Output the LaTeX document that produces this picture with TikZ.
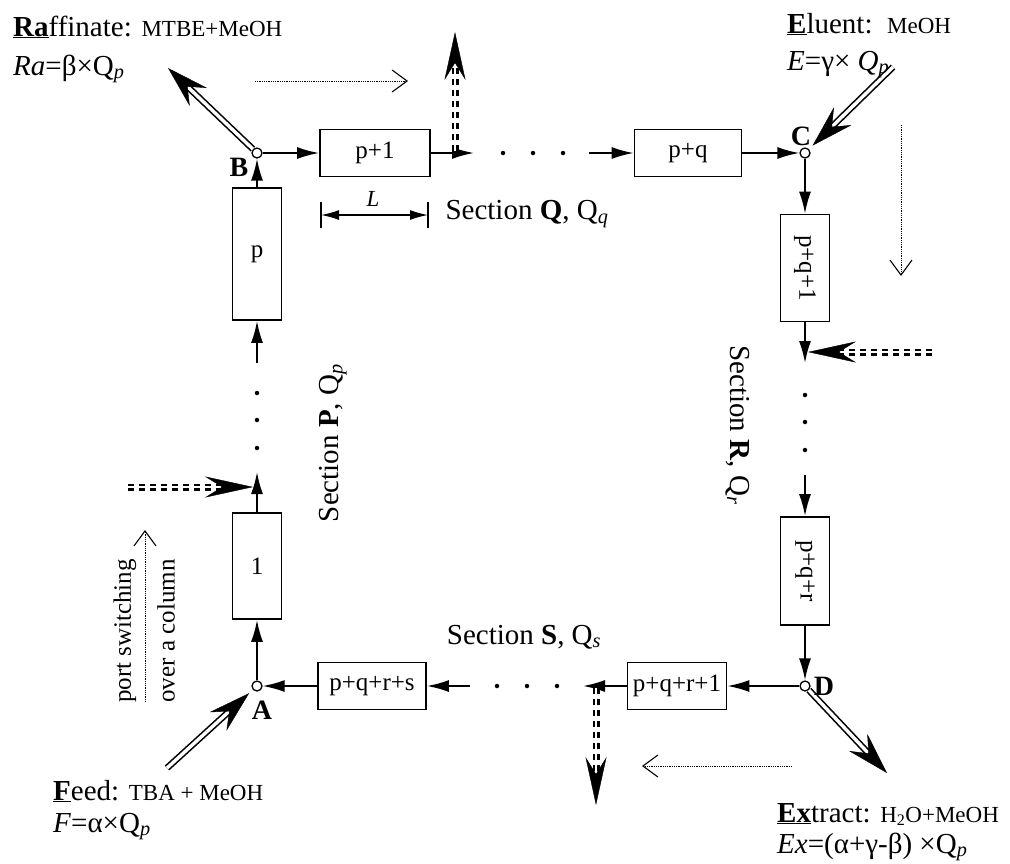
\documentclass[tikz,border=0pt]{standalone}
\usepackage{fontspec}
\setmainfont{Liberation Serif}
\usepackage{graphicx}
\usetikzlibrary{arrows.meta,calc}
\tikzset{
  col/.style={draw, line width=1.8pt, inner sep=0pt, font=\fontsize{25}{30}\selectfont},
  hcol/.style={col, minimum height=47pt},
  vcol/.style={col, minimum width=49pt},
  port/.style={circle, draw, line width=1.3pt, fill=white, minimum size=10pt, inner sep=0pt},
  flow/.style={line width=1.8pt, -{Latex[length=22pt,width=12pt]}},
  dbl/.style={double, double distance=3.4pt, line width=1.6pt},
  dtip/.style={line width=0.4pt, -{Stealth[length=42pt,width=25pt,inset=15pt]}},
  ddbl/.style={double, double distance=2.2pt, line width=2.4pt, dash pattern=on 6pt off 5pt},
  ddtip/.style={line width=0.4pt, -{Stealth[length=48pt,width=21pt,inset=17pt]}},
  hint/.style={line width=1pt, dash pattern=on 1pt off 0.8pt, -{Straight Barb[length=15pt,width=22pt,line width=1.1pt]}},
  dotm/.style={circle, fill, inner sep=0pt, minimum size=4.5pt},
  lab/.style={font=\fontsize{29}{34}\selectfont, inner sep=0pt, anchor=base west},
  sec/.style={font=\fontsize{29}{35}\selectfont, inner sep=0pt},
  tag/.style={font=\fontsize{28}{32}\selectfont\bfseries, inner sep=0pt},
}
\newcommand{\sm}[1]{{\fontsize{23}{28}\selectfont #1}}
\begin{document}
\begin{tikzpicture}[x=1pt,y=-1pt]
\useasboundingbox (0,0) rectangle (1010,863);

% ports
\node[port] (B) at (257,153) {};
\node[port] (C) at (805,153) {};
\node[port] (A) at (257,686) {};
\node[port] (D) at (805,686) {};

% columns
\node[hcol, minimum width=110pt] (c1) at (375,153) {p+1};
\node[hcol, minimum width=107pt] (c2) at (688,153) {p+q};
\node[vcol, minimum height=107pt] (c3) at (805,268) {\rotatebox{-90}{p+q+1}};
\node[vcol, minimum height=108pt] (c4) at (805,571) {\rotatebox{-90}{p+q+r}};
\node[hcol, minimum width=99pt] (c5) at (677,686) {p+q+r+1};
\node[hcol, minimum width=108pt] (c6) at (372,686) {p+q+r+s};
\node[vcol, minimum height=106pt] (c7) at (257,566) {1};
\node[vcol, minimum height=132pt] (c8) at (257,254) {p};

% free ends of the flow arrows
\coordinate (t1) at (474,153); \coordinate (t2) at (589,153);
\coordinate (r1) at (805,363); \coordinate (r2) at (805,475);
\coordinate (s1) at (583,686); \coordinate (s2) at (470,686);
\coordinate (l1) at (257,472); \coordinate (l2) at (257,363);

% main flow
\draw[flow] (B) -- (c1);
\draw[flow] (c1) -- (t1);
\draw[flow] (t2) -- (c2);
\draw[flow] (c2) -- (C);
\draw[flow] (C) -- (c3);
\draw[flow] (c3) -- (r1);
\draw[flow] (r2) -- (c4);
\draw[flow] (c4) -- (D);
\draw[flow] (D) -- (c5);
\draw[flow] (c5) -- (s1);
\draw[flow] (s2) -- (c6);
\draw[flow] (c6) -- (A);
\draw[flow] (A) -- (c7);
\draw[flow] (c7) -- (l1);
\draw[flow] (l2) -- (c8);
\draw[flow] (c8) -- (B);

% dots
\foreach \x [count=\i] in {503,533,563} \node[dotm] (dt\i) at (\x,153) {};
\foreach \y [count=\i] in {395,422,450} \node[dotm] (dr\i) at (805,\y) {};
\foreach \x [count=\i] in {497,527,557} \node[dotm] (ds\i) at (\x,686) {};
\foreach \y [count=\i] in {393,420,448} \node[dotm] (dl\i) at (257,\y) {};

% inlet / outlet streams
\coordinate (raf) at (168,68);
\draw[dbl, shorten >=24pt] (B) -- (raf);
\draw[dtip] ($(raf)!26pt!(B)$) -- (raf);
\coordinate (elu) at (893,67);
\draw[dbl, shorten >=28pt] (elu) -- (C);
\draw[dtip, shorten >=5pt] ($(C)!31pt!(elu)$) -- (C);
\coordinate (fee) at (167,768);
\draw[dbl, shorten >=28pt] (fee) -- (A);
\draw[dtip, shorten >=5pt] ($(A)!31pt!(fee)$) -- (A);
\coordinate (ext) at (887,773);
\draw[dbl, shorten >=24pt] (D) -- (ext);
\draw[dtip] ($(ext)!26pt!(D)$) -- (ext);

% dashed (next) ports
\coordinate (u0) at (455,151); \coordinate (u1) at (455,32);
\draw[ddbl, shorten >=26pt] (u0) -- (u1);
\draw[ddtip] ($(u1)!28pt!(u0)$) -- (u1);
\coordinate (v0) at (932,352); \coordinate (v1) at (808,352);
\draw[ddbl, shorten >=26pt] (v0) -- (v1);
\draw[ddtip] ($(v1)!28pt!(v0)$) -- (v1);
\coordinate (w0) at (128,487); \coordinate (w1) at (253,487);
\draw[ddbl, shorten >=26pt] (w0) -- (w1);
\draw[ddtip] ($(w1)!28pt!(w0)$) -- (w1);
\coordinate (z0) at (596,688); \coordinate (z1) at (596,805);
\draw[ddbl, shorten >=26pt] (z0) -- (z1);
\draw[ddtip] ($(z1)!28pt!(z0)$) -- (z1);

% port switching hints
\coordinate (h1a) at (255,81);  \coordinate (h1b) at (408,81);
\coordinate (h2a) at (901,125); \coordinate (h2b) at (901,276);
\coordinate (h3a) at (792,766); \coordinate (h3b) at (642,766);
\coordinate (h4a) at (145,702); \coordinate (h4b) at (145,530);
\draw[hint] (h1a) -- (h1b);
\draw[hint] (h2a) -- (h2b);
\draw[hint] (h3a) -- (h3b);
\draw[hint] (h4a) -- (h4b);

% column length
\coordinate (La) at (321,202); \coordinate (Lb) at (321,228);
\coordinate (Lc) at (428,202); \coordinate (Ld) at (428,228);
\coordinate (Le) at (321,215); \coordinate (Lf) at (428,215);
\draw[line width=1.5pt] (La) -- (Lb);
\draw[line width=1.5pt] (Lc) -- (Ld);
\draw[line width=1.4pt, {Latex[length=18pt,width=10pt]}-{Latex[length=18pt,width=10pt]}] (Le) -- (Lf);
\node[font=\fontsize{23}{26}\selectfont\itshape, inner sep=0pt] (Ltx) at (373,199) {L};

% port letters
\node[tag] (tB) at (239,167) {B};
\node[tag] (tC) at (801,136) {C};
\node[tag] (tA) at (262,710) {A};
\node[tag] (tD) at (824,686) {D};

% stream labels
\node[lab] (raf1) at (13,36) {\underline{\textbf{Ra}}ffinate: \sm{MTBE+MeOH}};
\node[lab] (raf2) at (13,75) {\textit{Ra}=β×Q\textsubscript{\textit{p}}};
\node[lab] (elu1) at (787,33) {\underline{\textbf{E}}luent:\ \ \sm{MeOH}};
\node[lab] (elu2) at (787,70) {\textit{E}=γ× \textit{Q}\textsubscript{\textit{p}}};
\node[lab] (fee1) at (53,800) {\underline{\textbf{F}}eed: \sm{TBA + MeOH}};
\node[lab] (fee2) at (53,832) {\textit{F}=α×Q\textsubscript{\textit{p}}};
\node[lab] (ext1) at (777,822) {\underline{\textbf{Ex}}tract: \sm{H\textsubscript{2}O+MeOH}};
\node[lab] (ext2) at (777,853) {\textit{Ex}=(α+γ-β) ×Q\textsubscript{\textit{p}}};

% section labels
\node[sec] (sQ) at (527,214) {Section \textbf{Q}, Q\textsubscript{\textit{q}}};
\node[sec, rotate=90] (sP) at (333,443) {Section \textbf{P}, Q\textsubscript{\textit{p}}};
\node[sec, rotate=-90] (sR) at (738,425) {Section \textbf{R}, Q\textsubscript{\textit{r}}};
\node[sec] (sS) at (524,637) {Section \textbf{S}, Q\textsubscript{\textit{s}}};

% port switching text
\node[sec, rotate=90, font=\fontsize{25}{30}\selectfont] (ps1) at (125,631) {port switching};
\node[sec, rotate=90, font=\fontsize{25}{30}\selectfont] (ps2) at (166,631) {over a column};
\end{tikzpicture}
\end{document}
